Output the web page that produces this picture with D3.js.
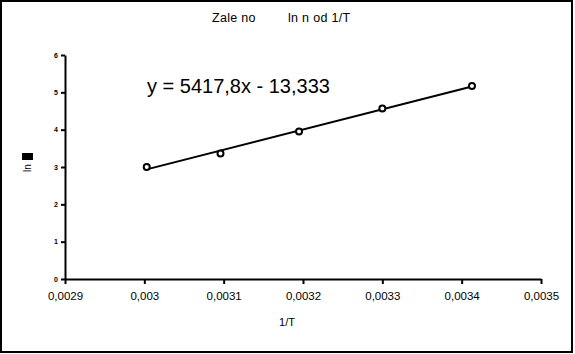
<!DOCTYPE html>
<html lang="en">
<head>
    <meta charset="UTF-8">
    <title>ln n od 1/T</title>
    <script src="https://d3js.org/d3.v7.min.js"></script>
    <style>
        body { margin: 0; background: #fff; }
        text { font-family: "Liberation Sans", Arial, sans-serif; fill: #000; }
    </style>
</head>
<body>
    <svg id="chart" width="575" height="354"></svg>

    <script>
        // data
        const invT = [0.003003, 0.003096, 0.003195, 0.0033, 0.003413];
        const lnN = [3.0, 3.36, 3.95, 4.57, 5.17];
        const xTicks = [0.0029, 0.003, 0.0031, 0.0032, 0.0033, 0.0034, 0.0035];
        const xTickLabels = ["0,0029", "0,003", "0,0031", "0,0032", "0,0033", "0,0034", "0,0035"];
        const yTicks = [0, 1, 2, 3, 4, 5, 6];
        // trend line coefficients (from the equation on the chart)
        const slope = 5417.8;
        const intercept = -13.333;

        const svg = d3.select("#chart");

        // outer frame
        svg.append("rect")
            .attr("x", 1).attr("y", 1)
            .attr("width", 571).attr("height", 351)
            .attr("fill", "none")
            .attr("stroke", "#000")
            .attr("stroke-width", 2);

        const x = d3.scaleLinear().domain([0.0029, 0.0035]).range([65, 541]);
        const y = d3.scaleLinear().domain([0, 6]).range([279, 55]);

        // x axis
        const xAxis = d3.axisBottom(x)
            .tickValues(xTicks)
            .tickFormat((d, i) => xTickLabels[i])
            .tickSizeInner(5)
            .tickSizeOuter(0);
        const gx = svg.append("g")
            .attr("transform", "translate(0,279)")
            .call(xAxis);
        gx.select(".domain").attr("stroke-width", 2);
        gx.selectAll(".tick line").attr("stroke-width", 2);
        gx.selectAll(".tick text")
            .attr("y", 13)
            .attr("font-size", 11.5)
            .style("font-family", "'Liberation Sans', Arial, sans-serif");

        // y axis
        const yAxis = d3.axisLeft(y)
            .tickValues(yTicks)
            .tickFormat(d3.format("d"))
            .tickSizeInner(4)
            .tickSizeOuter(0);
        const gy = svg.append("g")
            .attr("transform", "translate(65,0)")
            .call(yAxis);
        gy.select(".domain").attr("stroke-width", 2);
        gy.selectAll(".tick line").attr("stroke-width", 2);
        gy.selectAll(".tick text")
            .attr("x", -7)
            .attr("font-size", 7)
            .attr("font-weight", "bold")
            .style("font-family", "'Liberation Sans', Arial, sans-serif");

        // trend line
        const xMin = d3.min(invT), xMax = d3.max(invT);
        svg.append("line")
            .attr("x1", x(xMin)).attr("y1", y(slope * xMin + intercept))
            .attr("x2", x(xMax)).attr("y2", y(slope * xMax + intercept))
            .attr("stroke", "#000")
            .attr("stroke-width", 2);

        // points
        svg.selectAll("circle.pt")
            .data(invT)
            .enter().append("circle")
            .attr("class", "pt")
            .attr("cx", d => x(d))
            .attr("cy", (d, i) => y(lnN[i]))
            .attr("r", 3)
            .attr("fill", "#fff")
            .attr("stroke", "#000")
            .attr("stroke-width", 2);

        // equation
        svg.append("text")
            .attr("x", 147).attr("y", 93)
            .attr("font-size", 20)
            .text("y = 5417,8x - 13,333");

        // title
        svg.append("text")
            .attr("x", 212).attr("y", 22)
            .attr("font-size", 12.5)
            .attr("letter-spacing", 0.3)
            .text("Zale no");
        svg.append("text")
            .attr("x", 288).attr("y", 22)
            .attr("font-size", 12.5)
            .attr("letter-spacing", 0.3)
            .text("ln n od 1/T");

        // x label
        svg.append("text")
            .attr("x", 287).attr("y", 326)
            .attr("text-anchor", "middle")
            .attr("font-size", 11)
            .text("1/T");

        // y label (with the black block as in the original)
        svg.append("text")
            .attr("transform", "translate(31,172) rotate(-90)")
            .attr("font-size", 10)
            .text("ln");
        svg.append("rect")
            .attr("x", 22).attr("y", 153)
            .attr("width", 11).attr("height", 7)
            .attr("fill", "#000");
    </script>
</body>
</html>
